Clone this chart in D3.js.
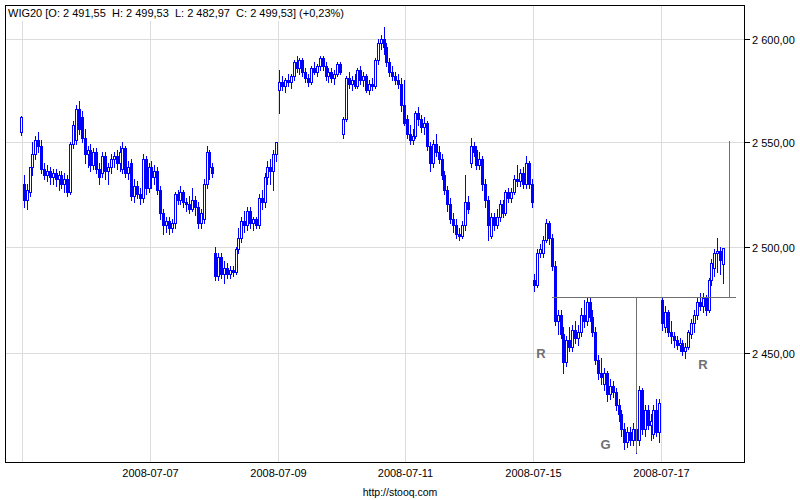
<!DOCTYPE html>
<html><head><meta charset="utf-8">
<script src="https://cdn.jsdelivr.net/npm/d3@7"></script>
<style>
html,body{margin:0;padding:0;background:#fff;}
svg{display:block;font-family:"Liberation Sans",Arial,sans-serif;}
</style>
</head><body>
<svg id="chart" width="800" height="500"></svg>
<script>
// ---- DATA (15-minute OHLC candles, WIG20) ----
const sessionDates = ["2008-07-03","2008-07-04","2008-07-07","2008-07-08","2008-07-09","2008-07-10","2008-07-11","2008-07-14","2008-07-15","2008-07-16","2008-07-17"];
const d0702 = [[2555,2562.5,2553.5,2562]]; // last candle of the previous session
const d0703 = [[2530,2534,2519,2522],[2522,2530,2518,2527],[2526,2538,2524,2538],[2538,2550,2534,2544],[2544,2553,2542,2551],[2551,2555,2545,2548],[2548,2551,2535,2537],[2537,2540,2532,2534],[2534,2539,2531,2536],[2536,2538,2530,2533],[2533,2537,2530,2535],[2535,2537,2529,2532],[2532,2536,2527,2534],[2534,2536,2528,2530],[2530,2535,2526,2532],[2532,2534,2524,2526],[2526,2550,2525,2549],[2549,2560,2547,2558],[2551,2568,2549,2566],[2566,2570,2554,2556],[2562,2565,2550,2552],[2552,2556,2540,2544]];
const d0704 = [[2544,2548,2538,2546],[2546,2549,2536,2539],[2539,2547,2537,2545],[2545,2547,2535,2537],[2537,2540,2530,2533],[2535,2545,2533,2543],[2543,2545,2532,2536],[2536,2540,2530,2538],[2538,2544,2535,2542],[2542,2545,2538,2543],[2543,2546,2537,2540],[2540,2548,2536,2545],[2537,2550,2535,2547],[2547,2548,2533,2535],[2535,2541,2532,2538],[2540,2542,2522,2524],[2524,2532,2521,2529],[2529,2531,2523,2525],[2525,2528,2520,2523],[2523,2544,2521,2542],[2542,2543,2525,2528],[2528,2540,2526,2538]];
const d0707 = [[2538,2541,2528,2533],[2533,2539,2530,2536],[2536,2538,2525,2527],[2527,2529,2513,2516],[2516,2518,2506,2510],[2510,2514,2507,2512],[2512,2514,2506,2509],[2509,2513,2507,2511],[2511,2526,2509,2525],[2525,2527,2520,2522],[2522,2529,2520,2526],[2526,2527,2519,2521],[2521,2523,2517,2520],[2520,2524,2516,2518],[2518,2528,2517,2522],[2522,2524,2515,2519],[2519,2521,2509,2511],[2511,2518,2509,2516],[2513,2532,2511,2530],[2530,2548,2528,2545],[2545,2546,2532,2538],[2538,2540,2533,2535]];
const d0708 = [[2497,2500,2484,2486],[2486,2497,2484,2495],[2495,2497,2485,2487],[2487,2493,2483,2490],[2490,2492,2485,2487],[2487,2491,2485,2489],[2489,2491,2486,2488],[2488,2500,2487,2499],[2499,2509,2497,2504],[2504,2514,2502,2512],[2512,2517,2507,2510],[2510,2519,2508,2517],[2517,2519,2509,2511],[2511,2514,2508,2513],[2513,2514,2509,2510],[2510,2525,2509,2523],[2523,2527,2518,2521],[2521,2535,2519,2533],[2533,2541,2530,2538],[2538,2542,2530,2536],[2536,2546,2527,2544],[2544,2550,2541,2550]];
const d0709 = [[2575,2585,2564,2579],[2579,2582,2575,2577],[2577,2581,2574,2580],[2580,2583,2577,2579],[2579,2583,2576,2582],[2582,2590,2580,2589],[2589,2592,2584,2586],[2586,2591,2583,2590],[2590,2591,2582,2584],[2584,2586,2579,2581],[2581,2583,2577,2579],[2579,2587,2578,2586],[2586,2589,2583,2584],[2584,2588,2582,2587],[2587,2592,2585,2591],[2591,2592,2585,2587],[2587,2589,2580,2582],[2582,2586,2579,2584],[2584,2586,2579,2581],[2581,2585,2578,2583],[2583,2589,2582,2588],[2588,2589,2583,2584]];
const d0710 = [[2554,2562,2552,2561],[2561,2582,2560,2581],[2581,2584,2576,2578],[2578,2582,2575,2580],[2580,2583,2576,2577],[2577,2586,2576,2585],[2585,2587,2578,2580],[2580,2584,2577,2582],[2582,2583,2574,2575],[2575,2580,2573,2578],[2578,2581,2575,2577],[2577,2591,2576,2590],[2590,2600,2588,2598],[2598,2602,2595,2600],[2600,2606,2593,2596],[2596,2598,2587,2589],[2589,2591,2582,2584],[2584,2587,2580,2582],[2582,2584,2578,2580],[2580,2583,2576,2578],[2578,2581,2565,2568],[2568,2580,2558,2559]];
const d0711 = [[2561,2563,2552,2554],[2554,2558,2549,2551],[2551,2556,2549,2553],[2553,2565,2552,2564],[2564,2567,2558,2561],[2561,2563,2555,2557],[2557,2562,2554,2559],[2559,2560,2546,2548],[2548,2550,2536,2540],[2540,2551,2538,2549],[2549,2554,2543,2545],[2545,2548,2540,2542],[2542,2544,2532,2534],[2534,2536,2525,2527],[2527,2529,2517,2520],[2520,2523,2511,2513],[2513,2516,2507,2510],[2510,2513,2504,2506],[2506,2509,2503,2505],[2505,2512,2504,2510],[2510,2534,2508,2521],[2521,2524,2516,2518]];
const d0714 = [[2540,2552,2538,2548],[2548,2550,2543,2545],[2546,2548,2537,2539],[2539,2545,2537,2542],[2542,2543,2527,2530],[2530,2532,2519,2522],[2522,2524,2503,2510],[2505,2516,2504,2514],[2514,2516,2508,2510],[2510,2518,2509,2514],[2514,2522,2512,2520],[2520,2522,2514,2516],[2516,2527,2515,2526],[2526,2528,2521,2523],[2523,2528,2521,2526],[2526,2534,2525,2532],[2532,2539,2529,2531],[2531,2537,2529,2535],[2535,2538,2528,2530],[2530,2543,2528,2540],[2540,2541,2528,2530],[2530,2532,2519,2521]];
const d0715 = [[2484,2487,2479,2482],[2482,2499,2481,2497],[2497,2501,2495,2499],[2497,2505,2495,2503],[2503,2513,2502,2511],[2511,2512,2501,2504],[2504,2506,2489,2491],[2491,2493,2463,2465],[2465,2470,2459,2468],[2468,2470,2457,2459],[2459,2462,2441,2446],[2446,2458,2444,2456],[2456,2462,2451,2453],[2453,2463,2451,2461],[2461,2465,2455,2457],[2457,2463,2454,2460],[2460,2471,2458,2468],[2468,2475,2462,2465],[2465,2476,2463,2474],[2474,2476,2465,2467],[2467,2470,2458,2460],[2460,2462,2445,2447]];
const d0716 = [[2447,2449,2438,2441],[2441,2448,2436,2439],[2436,2443,2433,2441],[2441,2442,2428,2431],[2431,2438,2429,2435],[2435,2437,2430,2432],[2432,2434,2424,2426],[2426,2429,2419,2422],[2422,2424,2412,2415],[2415,2418,2406,2409],[2409,2416,2407,2414],[2414,2416,2408,2410],[2410,2418,2408,2415],[2415,2418,2404,2410],[2410,2435,2408,2433],[2433,2434,2413,2415],[2415,2426,2412,2424],[2424,2426,2415,2417],[2417,2422,2410,2419],[2413,2426,2411,2424],[2424,2429,2412,2414],[2414,2429,2409,2427]];
const d0717 = [[2475,2476,2461,2464],[2462,2472,2460,2469],[2469,2470,2458,2460],[2460,2465,2455,2458],[2458,2460,2453,2456],[2456,2458,2452,2454],[2454,2457,2451,2455],[2455,2456,2449,2451],[2451,2455,2448,2453],[2453,2461,2452,2460],[2459,2466,2457,2464],[2464,2470,2460,2468],[2468,2476,2466,2474],[2474,2478,2470,2472],[2472,2478,2469,2476],[2476,2477,2468,2470],[2470,2485,2469,2484],[2484,2494,2482,2492],[2490,2499,2486,2497],[2497,2504,2488,2498],[2498,2500,2487,2493.8],[2491.55,2499.53,2482.97,2499.53]];
const sessions = [d0703,d0704,d0707,d0708,d0709,d0710,d0711,d0714,d0715,d0716,d0717];

const yTicks = [2450, 2500, 2550, 2600];
const xTickSessions = [0, 2, 4, 6, 8, 10];
const xTickShowLabel = [false, true, true, true, true, true];

// head & shoulders pattern (session-time units, index values)
const necklineSpan = [8.295, 11.18];
const necklineValue = 2476.2;
const headTime = 9.614, headLow = 2404.2;
const targetTime = 11.075, targetValue = 2550.3;
const patternLabels = [["R", 8.125, 2450.1], ["G", 9.135, 2408.4], ["R", 10.663, 2445.0]];

// ---- CHART ----
const svg = d3.select("#chart");
const frame = {left: 5.5, top: 5.5, right: 744.5, bottom: 462.5};
const x = d3.scaleLinear().domain([0, 11]).range([22.3, 724.5]);
const y = d3.scaleLog().domain([2450, 2600]).range([353.3, 39.3]);
const loc = d3.formatLocale({decimal: ",", thousands: " ", grouping: [3], currency: ["", ""]});
const fmt = loc.format(",.2f");
const fmtPct = loc.format("+.2f");

svg.append("rect").attr("width", 800).attr("height", 500).attr("fill", "#fff");

// grid
const grid = svg.append("g").attr("stroke", "#dcdcdc").attr("stroke-width", 1);
yTicks.forEach(v => {
  const yy = Math.round(y(v)) + 0.5;
  grid.append("line").attr("x1", frame.left).attr("x2", frame.right).attr("y1", yy).attr("y2", yy);
});
xTickSessions.forEach(s => {
  const xx = Math.round(x(s)) + 0.5;
  grid.append("line").attr("x1", xx).attr("x2", xx).attr("y1", frame.top).attr("y2", frame.bottom);
});

// candles
const bars = [];
d0702.forEach((b, j) => bars.push({t: -(d0702.length - j - 0.5) / 22, b}));
sessions.forEach((sess, d) => sess.forEach((b, j) => bars.push({t: d + (j + 0.5) / sess.length, b})));

const cg = svg.append("g");
bars.forEach(({t, b}) => {
  const [o, h, l, c] = b;
  const cx = Math.round(x(t));
  const yh = Math.round(y(h)), yl = Math.round(y(l));
  const top = Math.round(y(Math.max(o, c))), bot = Math.round(y(Math.min(o, c)));
  cg.append("line").attr("x1", cx + 0.5).attr("x2", cx + 0.5).attr("y1", yh).attr("y2", yl + 1)
    .attr("stroke", "#0000ff").attr("stroke-width", 1);
  if (c >= o) {
    cg.append("rect").attr("x", cx - 0.5).attr("y", top + 0.5).attr("width", 2).attr("height", Math.max(bot - top, 0))
      .attr("fill", "#fff").attr("stroke", "#0000ff").attr("stroke-width", 1);
  } else {
    cg.append("rect").attr("x", cx - 1).attr("y", top).attr("width", 3).attr("height", Math.max(bot - top + 1, 1))
      .attr("fill", "#0000ff");
  }
});

// pattern lines
const pg = svg.append("g").attr("stroke", "#707070").attr("stroke-width", 1);
const ny = Math.round(y(necklineValue)) + 0.5;
pg.append("line").attr("x1", Math.round(x(necklineSpan[0]))).attr("x2", Math.round(x(necklineSpan[1]))).attr("y1", ny).attr("y2", ny);
pg.append("line").attr("x1", Math.round(x(headTime)) + 0.5).attr("x2", Math.round(x(headTime)) + 0.5).attr("y1", ny).attr("y2", Math.round(y(headLow)));
pg.append("line").attr("x1", Math.round(x(targetTime)) + 0.5).attr("x2", Math.round(x(targetTime)) + 0.5).attr("y1", ny).attr("y2", Math.round(y(targetValue)));

svg.append("g").selectAll("text").data(patternLabels).join("text")
  .attr("x", d => x(d[1])).attr("y", d => y(d[2]) + 5)
  .attr("text-anchor", "middle").attr("font-size", 13).attr("font-weight", "bold").attr("fill", "#707070")
  .text(d => d[0]);

// title
const last = d0717[d0717.length - 1];
const prevClose = d0717[d0717.length - 2][3];
const pct = (last[3] / prevClose - 1) * 100;
svg.append("rect").attr("x", 6).attr("y", 6).attr("width", 334).attr("height", 15).attr("fill", "#fff");
svg.append("text").attr("x", 8).attr("y", 17).attr("font-size", 11).attr("fill", "#000")
  .style("white-space", "pre")
  .text(`WIG20 [O: ${fmt(last[0])}  H: ${fmt(last[1])}  L: ${fmt(last[2])}  C: ${fmt(last[3])}] (${fmtPct(pct)}%)`);

// frame
svg.append("rect").attr("x", frame.left).attr("y", frame.top)
  .attr("width", frame.right - frame.left).attr("height", frame.bottom - frame.top)
  .attr("fill", "none").attr("stroke", "#000").attr("stroke-width", 1);

// right axis
const ay = svg.append("g");
yTicks.forEach(v => {
  const yy = Math.round(y(v)) + 0.5;
  ay.append("line").attr("x1", frame.right).attr("x2", 750).attr("y1", yy).attr("y2", yy).attr("stroke", "#000");
  ay.append("text").attr("x", 752).attr("y", yy + 4).attr("font-size", 11).text(fmt(v));
});

// bottom labels
xTickSessions.forEach((s, i) => {
  if (!xTickShowLabel[i]) return;
  svg.append("text").attr("x", Math.round(x(s)) + 0.5).attr("y", 477).attr("text-anchor", "middle")
    .attr("font-size", 11).text(sessionDates[s]);
});
svg.append("text").attr("x", 400).attr("y", 496).attr("text-anchor", "middle").attr("font-size", 10.5).text("http://stooq.com");
</script>
</body></html>
